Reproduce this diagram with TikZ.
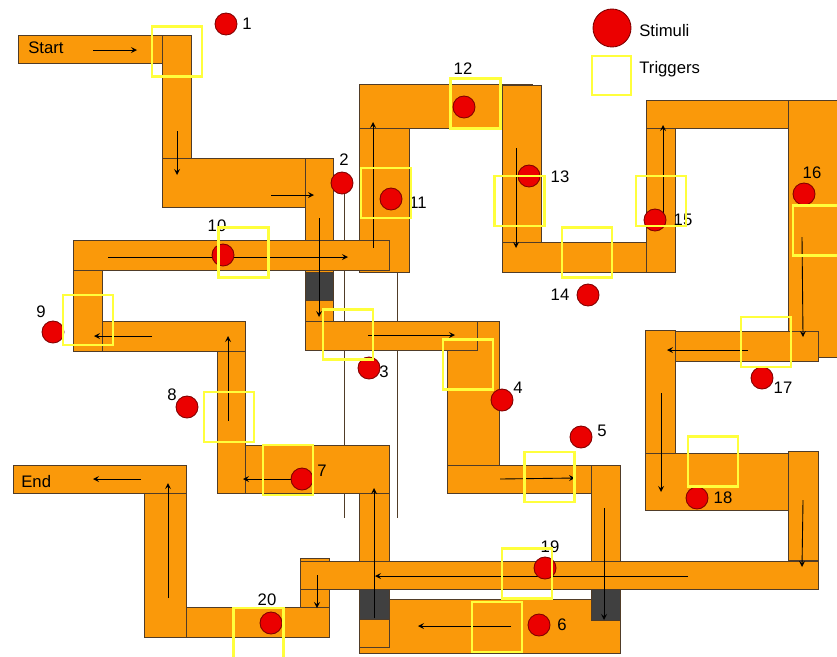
\documentclass[tikz,border=0pt]{standalone}
\usepackage{fontspec}
\setmainfont{Liberation Sans}
\usetikzlibrary{arrows.meta, positioning}
\definecolor{corridor}{RGB}{250,153,10}
\definecolor{edge}{RGB}{80,60,40}
\definecolor{blocked}{RGB}{64,64,64}
\definecolor{trigyellow}{RGB}{255,255,60}
\definecolor{stimred}{RGB}{235,0,0}

\begin{document}
\begin{tikzpicture}[x=0.02cm, y=-0.02cm,
    piece/.style={fill=corridor, draw=edge, line width=0.5pt},
    shut/.style={fill=blocked, draw=edge, line width=0.5pt},
    flow/.style={->, >=stealth, line width=0.5pt},
    stim/.style={circle, fill=stimred, draw=red!50!black, line width=0.5pt, minimum size=0.44cm, inner sep=0pt},
    trig/.style={draw=trigyellow, line width=1.2pt, minimum size=1cm, inner sep=0pt},
    num/.style={inner sep=0pt, font=\fontsize{9.5}{11}\selectfont}]
\useasboundingbox (0,0) rectangle (837,656);

% thin guide lines behind the corridors
\draw[edge, line width=0.5pt] (344,183) -- (344,518);
\draw[edge, line width=0.5pt] (397,272) -- (397,518);

% corridors
\draw[piece] (18,35) rectangle (162,63);
\draw[piece] (162,35) rectangle (191,158);
\draw[piece] (162,158) rectangle (305,207);
\draw[piece] (305,158) rectangle (333,321);
\draw[shut] (305,272) rectangle (333,300);
\draw[piece] (359,84) rectangle (409,272);
\draw[piece] (359,84) rectangle (532,128);
\draw[piece] (502,85) rectangle (541,272);
\draw[piece] (502,242) rectangle (646,272);
\draw[piece] (646,100) rectangle (675,272);
\draw[piece] (646,100) rectangle (788,128);
\draw[piece] (788,100) rectangle (850,357);
\draw[piece] (675,331) rectangle (818,361);
\draw[piece] (645,330) rectangle (675,453);
\draw[piece] (645,453) rectangle (788,510);
\draw[piece] (788,451) rectangle (818,560);

\draw[piece] (245,445) rectangle (389,493);
\draw[piece] (217,321) rectangle (245,493);
\draw[piece] (102,321) rectangle (245,351);
\draw[piece] (73,262) rectangle (102,351);
\draw[piece] (73,240) rectangle (389,270);
\draw[piece] (359,493) rectangle (389,561);

\draw[piece] (447,321) rectangle (499,465);
\draw[piece] (305,321) rectangle (477,350);
\draw[piece] (447,465) rectangle (591,493);
\draw[piece] (359,599) rectangle (620,653);
\draw[piece] (591,465) rectangle (620,599);
\draw[shut] (591,589) rectangle (620,620);
\draw[piece] (359,589) rectangle (389,647);
\draw[shut] (359,589) rectangle (389,619);

\draw[piece] (300,558) rectangle (329,607);
\draw[piece] (186,607) rectangle (329,637);
\draw[piece] (144,465) rectangle (186,637);
\draw[piece] (13,465) rectangle (186,493);
\draw[piece] (300,561) rectangle (818,589);

\node[num, anchor=west] (start) at (28,48) {Start};
\node[num, anchor=west] (end) at (21,482) {End};

% direction of travel
\draw[flow] (93,50) -- (137,50);
\draw[flow] (177,131) -- (177,175);
\draw[flow] (271,195) -- (314,195);
\draw[flow] (319,218) -- (319,317);
\draw[flow] (108,257) -- (348,257);
\draw[flow] (373,248) -- (373,122);
\draw[flow] (516,148) -- (516,248);
\draw[flow] (663,220) -- (663,125);
\draw[flow] (802,237) -- (803,337);
\draw[flow] (748,350) -- (667,350);
\draw[flow] (661,393) -- (661,492);
\draw[flow] (803,500) -- (802,567);
\draw[flow] (688,576) -- (375,576);
\draw[flow] (368,335) -- (455,335);
\draw[flow] (152,336) -- (94,336);
\draw[flow] (228,421) -- (228,336);
\draw[flow] (300,479) -- (243,479);
\draw[flow] (374,618) -- (374,488);
\draw[flow] (141,479) -- (93,479);
\draw[flow] (168,598) -- (168,483);
\draw[flow] (317,575) -- (317,608);
\draw[flow] (500,479) -- (575,478);
\draw[flow] (604,508) -- (604,620);
\draw[flow] (511,626) -- (418,626);

% stimuli
\node[stim] (s1) at (226,24) {};
\node[stim] (s2) at (342,183) {};
\node[stim] (s3) at (369,368) {};
\node[stim] (s4) at (502,400) {};
\node[stim] (s5) at (581,437) {};
\node[stim] (s6) at (539,625) {};
\node[stim] (s7) at (302,479) {};
\node[stim] (s8) at (187,407) {};
\node[stim] (s9) at (53,332) {};
\node[stim] (s10) at (223,255) {};
\node[stim] (s11) at (391,199) {};
\node[stim] (s12) at (464,107) {};
\node[stim] (s13) at (529,176) {};
\node[stim] (s14) at (588,295) {};
\node[stim] (s15) at (655,220) {};
\node[stim] (s16) at (804,194) {};
\node[stim] (s17) at (762,378) {};
\node[stim] (s18) at (697,498) {};
\node[stim] (s19) at (545,568) {};
\node[stim] (s20) at (271,623) {};

\node[num] (n1) at (247,24) {1};
\node[num] (n2) at (344,160) {2};
\node[num] (n3) at (384,372) {3};
\node[num] (n4) at (518,388) {4};
\node[num] (n5) at (602,431) {5};
\node[num] (n6) at (562,625) {6};
\node[num] (n7) at (322,471) {7};
\node[num] (n8) at (172,395) {8};
\node[num] (n9) at (41,312) {9};
\node[num] (n10) at (217,226) {10};
\node[num] (n11) at (418,203) {11};
\node[num] (n12) at (463,69) {12};
\node[num] (n13) at (560,177) {13};
\node[num] (n14) at (560,295) {14};
\node[num] (n15) at (683,220) {15};
\node[num] (n16) at (812,173) {16};
\node[num] (n17) at (783,388) {17};
\node[num] (n18) at (723,498) {18};
\node[num] (n19) at (550,547) {19};
\node[num] (n20) at (267,600) {20};

% triggers
\node[trig] (t1) at (177,51.5) {};
\node[trig] (t3) at (348,334.5) {};
\node[trig] (t4) at (468,364.5) {};
\node[trig] (t5) at (549.5,477) {};
\node[trig] (t6) at (497,627) {};
\node[trig] (t7) at (288,470) {};
\node[trig] (t8) at (229,417) {};
\node[trig] (t9) at (88,320) {};
\node[trig] (t10) at (243.5,252.5) {};
\node[trig] (t11) at (386,193) {};
\node[trig] (t12) at (475.5,103.5) {};
\node[trig] (t13) at (519.5,201) {};
\node[trig] (t14) at (587,252.5) {};
\node[trig] (t15) at (661,201) {};
\node[trig] (t16) at (818,230.5) {};
\node[trig] (t17) at (766,342) {};
\node[trig] (t18) at (713,461.5) {};
\node[trig] (t19) at (527,573.5) {};
\node[trig] (t20) at (258.5,633) {};

% legend
\node[stim, minimum size=0.76cm] (keystim) at (612,28) {};
\node[trig, minimum size=0.78cm] (keytrig) at (611.5,75.5) {};
\node[num, anchor=west] (keystimtext) at (639,31) {Stimuli};
\node[num, anchor=west] (keytrigtext) at (639,69) {Triggers};

\end{tikzpicture}
\end{document}
